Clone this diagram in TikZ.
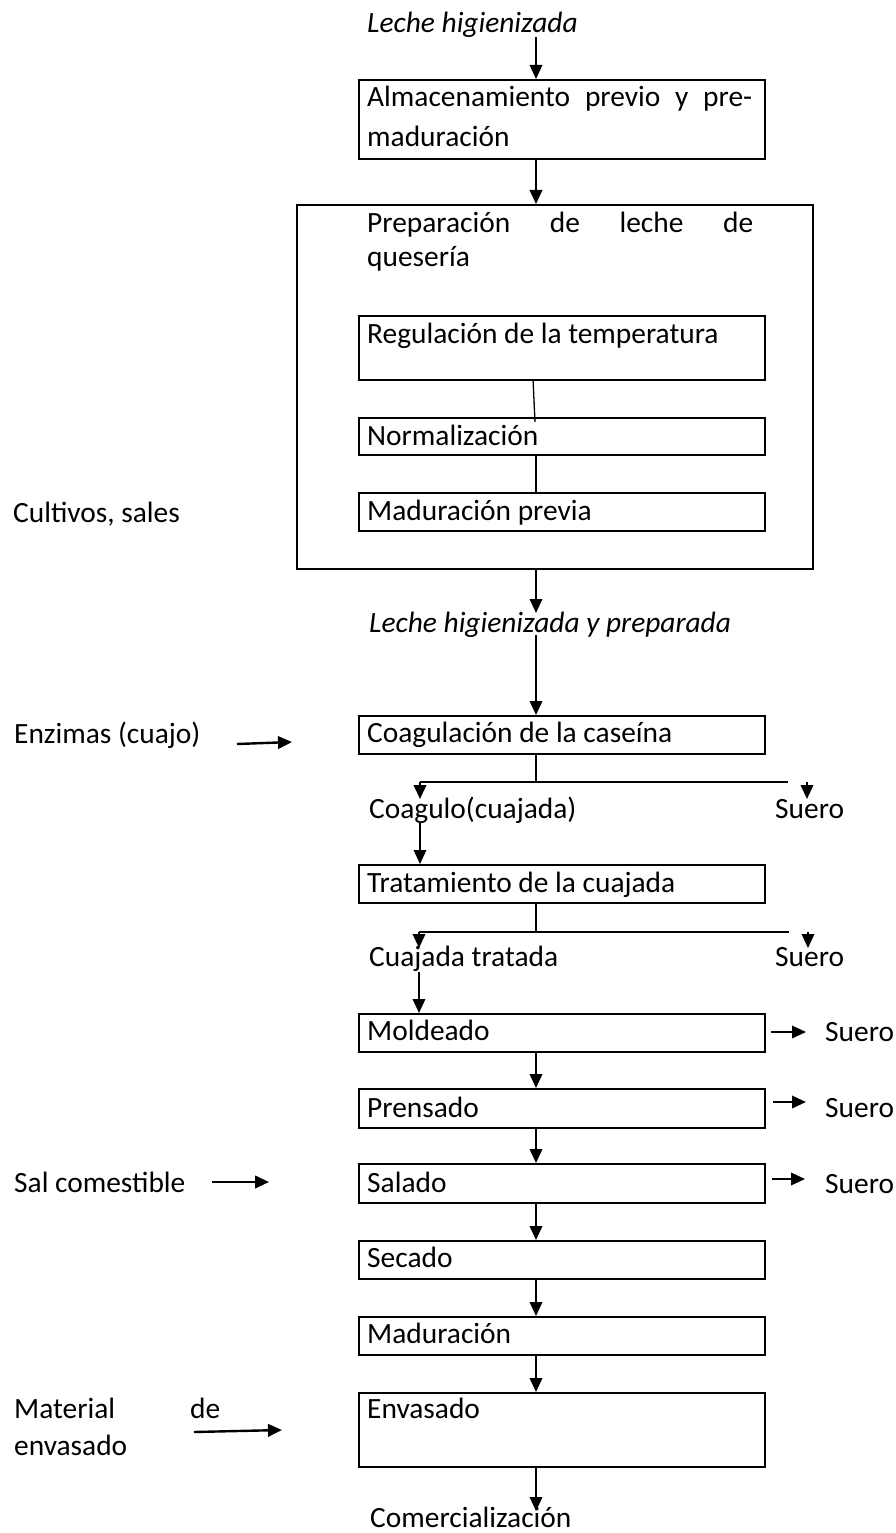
\documentclass[tikz,border=0pt]{standalone}
\usepackage{fontspec}
\setmainfont{Carlito}
\usetikzlibrary{arrows.meta,calc}
\begin{document}
\begin{tikzpicture}[x=1pt,y=-1pt,
  box/.style={draw, line width=2pt, inner sep=0pt, anchor=north west},
  txt/.style={anchor=base west, inner sep=0pt, font=\fontsize{29.4}{40}\selectfont},
  itxt/.style={txt, font=\fontsize{29.4}{40}\selectfont\itshape},
  arr/.style={line width=2pt, -{Triangle[length=14pt,width=12.5pt]}},
  thin/.style={line width=1.3pt}]
\useasboundingbox (0,0) rectangle (895,1533);
\coordinate (ax) at (536,0);
\coordinate (lx) at (420,0);
\coordinate (rx) at (807,0);

% top
\node[itxt] (t0) at (367,33) {Leche higienizada};
\node[box, minimum width=406pt, minimum height=79pt] (b1) at (358,79) {};
\node[txt] (b1a) at (367,107) {\makebox[385pt][s]{Almacenamiento previo y pre-}};
\node[txt] (b1b) at (367,147) {maduración};
\coordinate (a0) at (536,37);
\draw[arr] (a0) -- (b1.north -| ax);

% preparation
\node[box, minimum width=516pt, minimum height=364pt] (prep) at (296,204) {};
\draw[arr] (b1.south -| ax) -- (prep.north -| ax);
\node[txt] (pa) at (367,233) {\makebox[386pt][s]{Preparación de leche de}};
\node[txt] (pb) at (367,266) {quesería};
\node[box, minimum width=406pt, minimum height=64pt] (reg) at (358,315) {};
\node[txt] (regt) at (367,343) {Regulación de la temperatura};
\node[box, minimum width=406pt, minimum height=37pt] (norm) at (358,417) {};
\node[txt] (normt) at (367,445) {Normalización};
\node[box, minimum width=406pt, minimum height=38pt] (madp) at (358,492) {};
\node[txt] (madpt) at (367,520) {Maduración previa};
\coordinate (r1) at (533,379);
\coordinate (r2) at (535,422);
\draw[thin] (r1) -- (r2);
\draw[thin] (norm.south -| ax) -- (madp.north -| ax);
\node[txt] (cult) at (13,522) {Cultivos, sales};

% leche preparada
\node[itxt] (lhp) at (369,632) {Leche higienizada y preparada};
\coordinate (p1) at (536,613);
\coordinate (p2) at (536,635);
\draw[arr] (prep.south -| ax) -- (p1);

% coagulacion
\node[box, minimum width=406pt, minimum height=38pt] (coag) at (358,715) {};
\node[txt] (coagt) at (367,742) {Coagulación de la caseína};
\draw[arr] (p2) -- (coag.north -| ax);
\node[txt] (enz) at (14,743) {Enzimas (cuajo)};
\coordinate (e1) at (237,744);
\coordinate (e2) at (292,742);
\draw[arr, line width=2.4pt] (e1) -- (e2);
\coordinate (s1) at (536,782);
\coordinate (s1l) at (420,782);
\coordinate (s1r) at (788,782);
\coordinate (s1a) at (807,782);
\coordinate (s1ld) at (420,799);
\coordinate (s1rd) at (807,799);
\draw[thin] (coag.south -| ax) -- (s1);
\draw[thin, line width=1.6pt] (s1l) -- (s1r);
\draw[arr] (s1l) -- (s1ld);
\draw[arr] (s1a) -- (s1rd);
\node[txt] (cgl) at (369,818) {Coagulo(cuajada)};
\node[txt] (su1) at (775,818) {Suero};

% tratamiento
\node[box, minimum width=406pt, minimum height=38pt] (trat) at (358,864) {};
\node[txt] (tratt) at (367,892) {Tratamiento de la cuajada};
\coordinate (c1) at (420,823);
\draw[arr] (c1) -- (trat.north -| lx);
\coordinate (s2) at (536,932);
\coordinate (s2l) at (419,932);
\coordinate (s2r) at (789,932);
\coordinate (s2a) at (808,932);
\coordinate (s2ld) at (419,948);
\coordinate (s2rd) at (808,948);
\draw[thin] (trat.south -| ax) -- (s2);
\draw[thin, line width=1.6pt] (s2l) -- (s2r);
\draw[arr] (s2l) -- (s2ld);
\draw[arr] (s2a) -- (s2rd);
\node[txt] (ctr) at (369,966) {Cuajada tratada};
\node[txt] (su2) at (775,966) {Suero};

% moldeado
\node[box, minimum width=406pt, minimum height=38pt] (mold) at (358,1013) {};
\node[txt] (moldt) at (367,1040) {Moldeado};
\coordinate (c2) at (419,972);
\coordinate (c2e) at (419,1013);
\draw[arr] (c2) -- (c2e);
\coordinate (m1) at (771,1032);
\coordinate (m2) at (806,1032);
\draw[arr] (m1) -- (m2);
\node[txt] (su3) at (825,1041) {Suero};

% prensado
\node[box, minimum width=406pt, minimum height=39pt] (pren) at (358,1088) {};
\node[txt] (prent) at (367,1117) {Prensado};
\draw[arr] (mold.south -| ax) -- (pren.north -| ax);
\coordinate (n1) at (773,1102);
\coordinate (n2) at (806,1102);
\draw[arr] (n1) -- (n2);
\node[txt] (su4) at (825,1117) {Suero};

% salado
\node[box, minimum width=406pt, minimum height=39pt] (sal) at (358,1163) {};
\node[txt] (salt) at (367,1192) {Salado};
\draw[arr] (pren.south -| ax) -- (sal.north -| ax);
\node[txt] (salc) at (14,1192) {Sal comestible};
\coordinate (sc1) at (212,1182);
\coordinate (sc2) at (269,1182);
\draw[arr, line width=2.4pt] (sc1) -- (sc2);
\coordinate (sl1) at (772,1179);
\coordinate (sl2) at (805,1179);
\draw[arr] (sl1) -- (sl2);
\node[txt] (su5) at (825,1193) {Suero};

% secado
\node[box, minimum width=406pt, minimum height=38pt] (sec) at (358,1240) {};
\node[txt] (sect) at (367,1267) {Secado};
\draw[arr] (sal.south -| ax) -- (sec.north -| ax);

% maduracion
\node[box, minimum width=406pt, minimum height=38pt] (mad) at (358,1316) {};
\node[txt] (madt) at (367,1343) {Maduración};
\draw[arr] (sec.south -| ax) -- (mad.north -| ax);

% envasado
\node[box, minimum width=406pt, minimum height=74pt] (env) at (358,1392) {};
\node[txt] (envt) at (367,1418) {Envasado};
\draw[arr] (mad.south -| ax) -- (env.north -| ax);
\node[txt] (mat) at (14,1418) {\makebox[206pt][s]{Material de}};
\node[txt] (mat2) at (14,1455) {envasado};
\coordinate (me1) at (194,1432);
\coordinate (me2) at (282,1430);
\draw[arr, line width=2.4pt] (me1) -- (me2);
\node[txt] (com) at (370,1527) {Comercialización};
\coordinate (ce) at (536,1511);
\draw[arr] (env.south -| ax) -- (ce);
\end{tikzpicture}
\end{document}
